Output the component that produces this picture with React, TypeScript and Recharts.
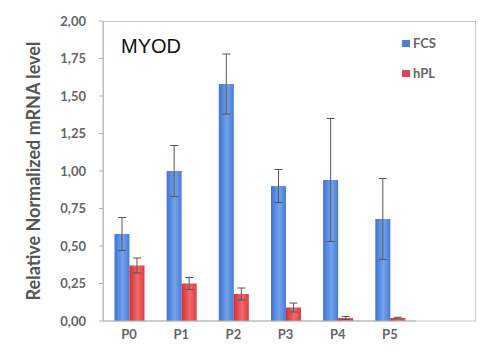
import React from "react"
import { BarChart, Bar, XAxis, YAxis, ErrorBar, Legend } from "recharts"

const passages = ["P0", "P1", "P2", "P3", "P4", "P5"]
const fcsValues = [0.58, 1.0, 1.58, 0.9, 0.94, 0.68]
const fcsErrors = [0.11, 0.17, 0.2, 0.11, 0.41, 0.27]
const hplValues = [0.37, 0.25, 0.18, 0.09, 0.02, 0.02]
const hplErrors = [0.05, 0.04, 0.04, 0.03, 0.01, 0.005]
const yTicks = [0, 0.25, 0.5, 0.75, 1, 1.25, 1.5, 1.75, 2]

const data = passages.map((p, i) => ({
  name: p,
  fcs: fcsValues[i],
  fcsErr: fcsErrors[i],
  hpl: hplValues[i],
  hplErr: hplErrors[i],
}))

const swatch: Record<string, string> = { FCS: "#4f7fc8", hPL: "#d9445a" }

const tickFont = { fontFamily: "Lato", fontSize: 13, fill: "#666", fontWeight: 700 }

function formatComma(v: number): string {
  return v.toFixed(2).replace(".", ",")
}

const LegendBox = ({ payload }: any) => (
  <div>
    {(payload || []).map((entry: any, i: number) => (
      <div key={i} style={{ display: "flex", alignItems: "center", height: 30, fontFamily: "Lato", fontSize: 13, fontWeight: 700, color: "#666" }}>
        <span style={{ display: "inline-block", width: 8, height: 7, background: swatch[entry.value], marginRight: 3 }} />
        {entry.value}
      </div>
    ))}
  </div>
)

export default function App() {
  return (
    <div style={{ position: "fixed", left: 0, top: 0, width: 482, height: 352, background: "#fff" }}>
      <BarChart
        width={482}
        height={352}
        data={data}
        margin={{ top: 21, right: 6, bottom: 0, left: 0 }}
        barCategoryGap="22%"
        barGap={0}
      >
        <defs>
          <linearGradient id="blueGrad" x1="0" y1="0" x2="1" y2="0">
            <stop offset="0%" stopColor="#3d73d4" />
            <stop offset="55%" stopColor="#74a2ea" />
            <stop offset="100%" stopColor="#467cd8" />
          </linearGradient>
          <linearGradient id="redGrad" x1="0" y1="0" x2="1" y2="0">
            <stop offset="0%" stopColor="#d32f35" />
            <stop offset="55%" stopColor="#f06a6c" />
            <stop offset="100%" stopColor="#dc3c40" />
          </linearGradient>
        </defs>
        {/* light frame round the plot area */}
        <rect x={103.5} y={21.5} width={372} height={299.5} fill="none" stroke="#c8c8c8" />
        <XAxis
          dataKey="name"
          height={31}
          tickLine={false}
          tickSize={0}
          tickMargin={9}
          tick={tickFont}
          axisLine={{ stroke: "#b5b5b5" }}
        />
        <YAxis
          domain={[0, 2]}
          ticks={yTicks}
          width={103}
          tickSize={4}
          tickMargin={13}
          tickFormatter={formatComma}
          tick={tickFont}
          tickLine={{ stroke: "#b5b5b5" }}
          axisLine={{ stroke: "#b5b5b5" }}
          label={{
            value: "Relative Normalized mRNA level",
            angle: -90,
            position: "insideLeft",
            offset: 34,
            style: { textAnchor: "middle", fontFamily: "Lato", fontSize: 18, fontWeight: 700, fill: "#555" },
          }}
        />
        <Legend
          layout="vertical"
          verticalAlign="top"
          align="right"
          content={<LegendBox />}
          wrapperStyle={{ top: 28, left: 402, width: 60 }}
        />
        <Bar dataKey="fcs" name="FCS" fill="url(#blueGrad)" legendType="square" isAnimationActive={false}>
          <ErrorBar dataKey="fcsErr" direction="y" width={4} stroke="#555" strokeWidth={1} />
        </Bar>
        <Bar dataKey="hpl" name="hPL" fill="url(#redGrad)" legendType="square" isAnimationActive={false}>
          <ErrorBar dataKey="hplErr" direction="y" width={4} stroke="#555" strokeWidth={1} />
        </Bar>
        <text x={121} y={53} fontFamily="Liberation Sans" fontSize={20} fill="#111">MYOD</text>
      </BarChart>
    </div>
  )
}
